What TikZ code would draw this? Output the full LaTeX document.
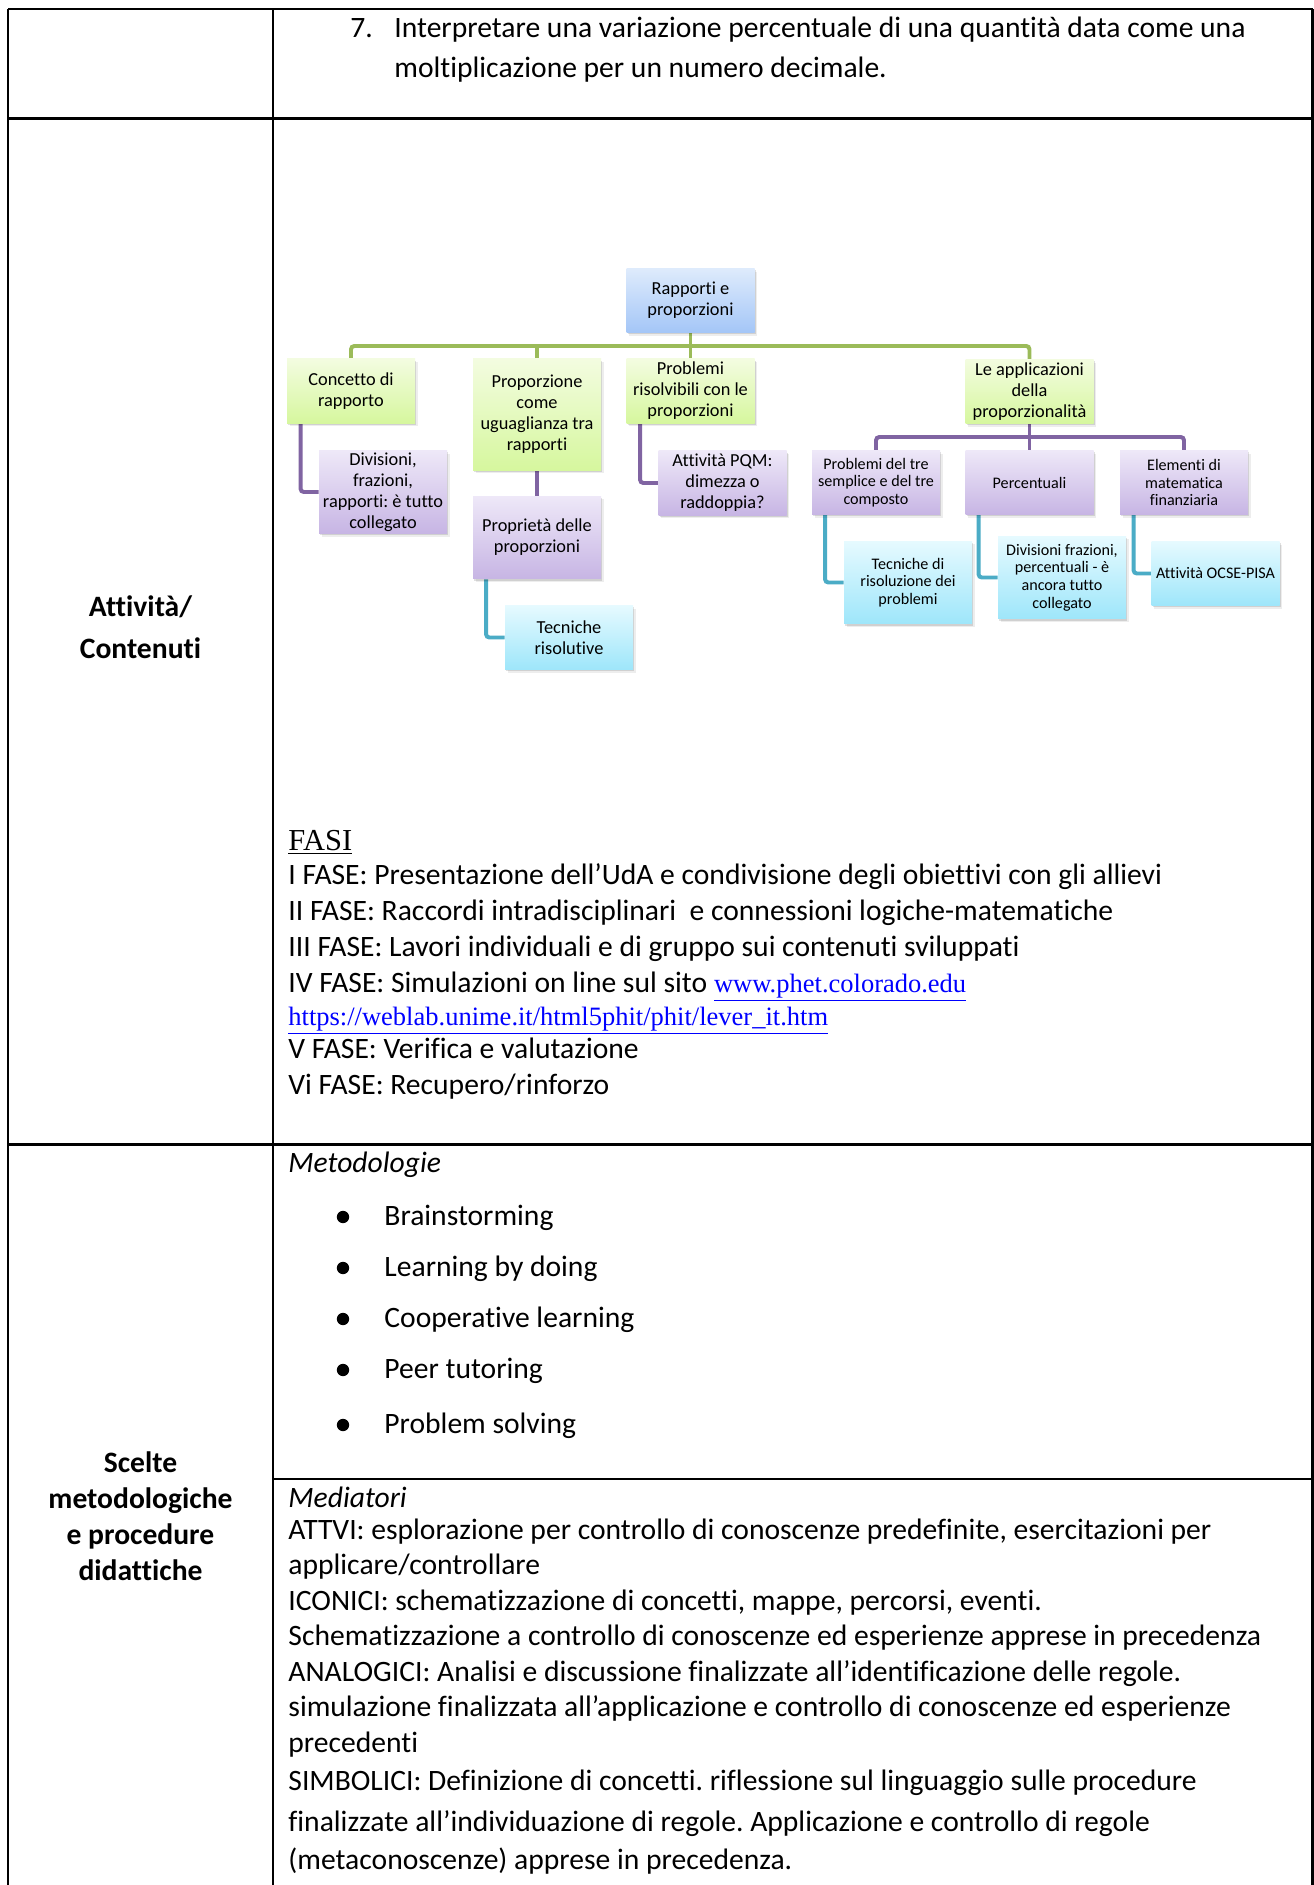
\documentclass[tikz,border=0pt]{standalone}
\usepackage{fontspec}
\setmainfont{Carlito}[Ligatures={NoCommon}]
\newfontfamily\timesf{Liberation Serif}
\usetikzlibrary{shadows}
\frenchspacing
\definecolor{gline}{HTML}{9BBB59}
\definecolor{pline}{HTML}{8064A2}
\definecolor{cline}{HTML}{4BACC6}
\definecolor{gtop}{RGB}{243,252,224}
\definecolor{gbot}{RGB}{214,247,158}
\definecolor{btop}{RGB}{222,235,252}
\definecolor{bbot}{RGB}{164,198,247}
\definecolor{ptop}{RGB}{238,232,248}
\definecolor{pbot}{RGB}{199,181,228}
\definecolor{ctop}{RGB}{230,250,255}
\definecolor{cbot}{RGB}{158,230,250}
\definecolor{linkblue}{RGB}{0,0,255}
\newcommand\dgbig{\fontsize{8.3}{9.5}\selectfont}
\newcommand\dgsmall{\fontsize{7.3}{8}\selectfont}
\newcommand\bodyf{\fontsize{13.4}{15}\selectfont}
\pgfdeclarelayer{bg}
\pgfsetlayers{bg,main}
\begin{document}
\frenchspacing
\begin{tikzpicture}[x=0.4528pt, y=-0.4528pt,
  tline/.style={line width=1.3pt, black},
  txt/.style={anchor=base west, inner sep=0pt, font=\bodyf},
  lbl/.style={anchor=base, inner sep=0pt, font=\bodyf\bfseries},
  box/.style={inner xsep=1pt, inner ysep=0pt, align=center, minimum width=57.96pt, text=black,
    general shadow={shadow xshift=1.2pt, shadow yshift=-1.4pt, fill=black, opacity=0.07},
    general shadow={shadow xshift=0.6pt, shadow yshift=-0.8pt, fill=black, opacity=0.12}},
  gbox/.style={box, top color=gtop, bottom color=gbot, font=\dgbig},
  bbox/.style={box, top color=btop, bottom color=bbot, font=\dgbig},
  pbox/.style={box, top color=ptop, bottom color=pbot, font=\dgbig},
  cbox/.style={box, top color=ctop, bottom color=cbot, font=\dgbig},
  sm/.style={font=\dgsmall},
  hA/.style={minimum height=29pt},
  hB/.style={minimum height=37.5pt},
  hC/.style={minimum height=50.3pt},
  gconn/.style={draw=gline, line width=1.8pt, rounded corners=1.5pt},
  pconn/.style={draw=pline, line width=1.8pt, rounded corners=1.5pt},
  cconn/.style={draw=cline, line width=1.8pt, rounded corners=1.5pt}]
\useasboundingbox (0,0) rectangle (1314,1885);
\begin{pgfonlayer}{bg}
\fill[white] (0,0) rectangle (1314,1885);
\end{pgfonlayer}

% table
\draw[tline] (8,9) -- (1312.5,9);
\draw[tline] (8,9) -- (8,1885);
\draw[tline] (273,9) -- (273,1885);
\draw[line width=1pt] (1312.5,9) -- (1312.5,1885);
\draw[tline] (8,118.7) -- (1312.5,118.7);
\draw[tline] (8,1144.5) -- (1312.5,1144.5);
\draw[line width=1.1pt] (273,1479) -- (1312.5,1479);

% row 1
\node[txt] (n7) at (350,37) {7.};
\node[txt] (r1a) at (394,37) {Interpretare una variazione percentuale di una quantità data come una};
\node[txt] (r1b) at (394,77) {moltiplicazione per un numero decimale.};

% row 2 label
\node[lbl] (l2a) at (140.5,616) {Attività/};
\node[lbl] (l2b) at (140.5,658) {Contenuti};

% diagram
\node[bbox, hA] (R) at (690.5,300.5) {Rapporti e\\proporzioni};
\node[gbox, hA] (G1) at (351,391) {Concetto di\\rapporto};
\node[gbox, hC] (G2) at (537,414.5) {Proporzione\\come\\uguaglianza tra\\rapporti};
\node[gbox, hA] (G3) at (690.5,391) {Problemi\\risolvibili con le\\proporzioni};
\node[gbox, hA] (G4) at (1029.5,391.5) {Le applicazioni\\della\\proporzionalità};
\node[pbox, hB] (P1) at (383,492) {Divisioni,\\frazioni,\\rapporti: è tutto\\collegato};
\node[pbox, hB] (P2) at (537,537.5) {Proprietà delle\\proporzioni};
\node[cbox, hA] (C1) at (569,637.5) {Tecniche\\risolutive};
\node[pbox, hA] (P3) at (722.5,483) {Attività PQM:\\dimezza o\\raddoppia?};
\node[pbox, hA, sm] (P4) at (876,482.5) {Problemi del tre\\semplice e del tre\\composto};
\node[pbox, hA, sm] (P5) at (1029.5,482.5) {Percentuali};
\node[pbox, hA, sm] (P6) at (1184,482.5) {Elementi di\\matematica\\finanziaria};
\node[cbox, hB, sm] (C2) at (908,582.5) {Tecniche di\\risoluzione dei\\problemi};
\node[cbox, hB, sm] (C3) at (1062,577.5) {Divisioni frazioni,\\percentuali - è\\ancora tutto\\collegato};
\node[cbox, hA, sm] (C4) at (1215.5,573.5) {Attività OCSE-PISA};

\begin{pgfonlayer}{bg}
\draw[gconn] (G1.north) -- (G1.north |- 0,346) -- (G4.north |- 0,346) -- (G4.north);
\draw[gconn] (R.south) -- (R.south |- 0,346);
\draw[gconn] (G2.north) -- (G2.north |- 0,346);
\draw[gconn] (G3.north) -- (G3.north |- 0,346);
\draw[pconn] (G1.south west) ++(14,0) |- (P1.west);
\draw[pconn] (G2.south) -- (P2.north);
\draw[cconn] (P2.south west) ++(13.5,0) |- (C1.west);
\draw[pconn] (G3.south west) ++(14,0) |- (P3.west);
\draw[pconn] (G4.south) -- (G4.south |- 0,437);
\draw[pconn] (P4.north) -- (P4.north |- 0,437) -- (P6.north |- 0,437) -- (P6.north);
\draw[pconn] (P5.north) -- (P5.north |- 0,437);
\draw[cconn] (P4.south west) ++(13.5,0) |- (C2.west);
\draw[cconn] (P5.south west) ++(13.5,0) |- (C3.west);
\draw[cconn] (P6.south west) ++(14,0) |- (C4.west);
\end{pgfonlayer}

% FASI
\node[txt, font=\timesf\fontsize{13.8}{15}\selectfont] (fasi) at (288,850) {\underline{FASI}};
\node[txt] (f1) at (288,884) {I FASE: Presentazione dell’UdA e condivisione degli obiettivi con gli allievi};
\node[txt] (f2) at (288,920) {II FASE: Raccordi intradisciplinari\ \ e connessioni logiche-matematiche};
\node[txt] (f3) at (288,956) {III FASE: Lavori individuali e di gruppo sui contenuti sviluppati};
\node[txt] (f4) at (288,992) {IV FASE: Simulazioni on line sul sito {\timesf\fontsize{12}{14}\selectfont\color{linkblue}\underline{www.phet.colorado.edu}}};
\node[txt, font=\timesf\fontsize{12}{14}\selectfont, text=linkblue] (f4b) at (288,1025) {\underline{https://weblab.unime.it/html5phit/phit/lever\_it.htm}};
\node[txt] (f5) at (288,1058) {V FASE: Verifica e valutazione};
\node[txt] (f6) at (288,1094) {Vi FASE: Recupero/rinforzo};

% row 3 label
\node[lbl] (l3a) at (140.5,1472) {Scelte};
\node[lbl] (l3b) at (140.5,1508) {metodologiche};
\node[lbl] (l3c) at (140.5,1544) {e procedure};
\node[lbl] (l3d) at (140.5,1580) {didattiche};

% Metodologie
\node[txt, font=\bodyf\itshape] (met) at (288,1172) {Metodologie};
\foreach \t/\yy in {Brainstorming/1225, Learning by doing/1276, Cooperative learning/1327, Peer tutoring/1378, Problem solving/1433}{
  \fill (343,\yy-8) circle[radius=2.8pt];
  \node[txt] at (384,\yy) {\t};
}

% Mediatori
\node[txt, font=\bodyf\itshape] (med) at (288,1507) {Mediatori};
\node[txt] (m1) at (288,1539) {ATTVI: esplorazione per controllo di conoscenze predefinite, esercitazioni per};
\node[txt] (m2) at (288,1574.5) {applicare/controllare};
\node[txt] (m3) at (288,1610) {ICONICI: schematizzazione di concetti, mappe, percorsi, eventi.};
\node[txt] (m4) at (288,1645.5) {Schematizzazione a controllo di conoscenze ed esperienze apprese in precedenza};
\node[txt] (m5) at (288,1681) {ANALOGICI: Analisi e discussione finalizzate all’identificazione delle regole.};
\node[txt] (m6) at (288,1716.5) {simulazione finalizzata all’applicazione e controllo di conoscenze ed esperienze};
\node[txt] (m7) at (288,1752) {precedenti};
\node[txt] (m8) at (288,1790) {SIMBOLICI: Definizione di concetti. riflessione sul linguaggio sulle procedure};
\node[txt] (m9) at (288,1831) {finalizzate all’individuazione di regole. Applicazione e controllo di regole};
\node[txt] (m10) at (288,1869) {(metaconoscenze) apprese in precedenza.};
\end{tikzpicture}
\end{document}
